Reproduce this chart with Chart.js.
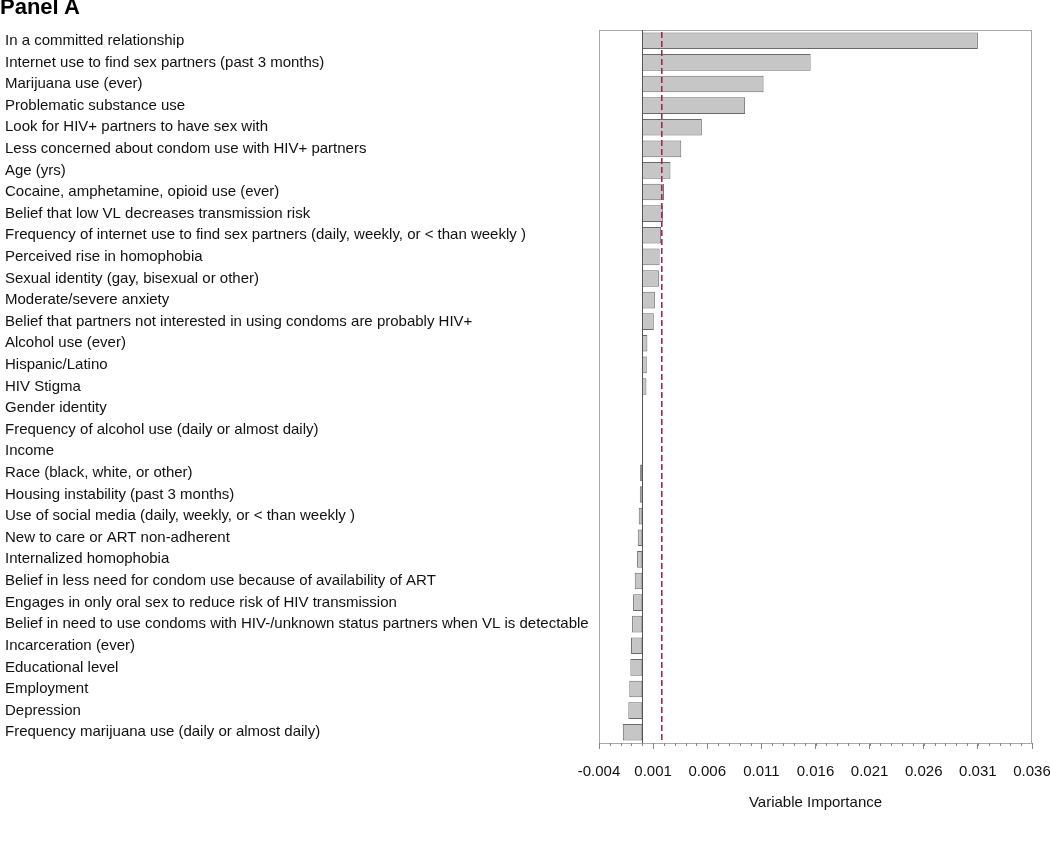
<!DOCTYPE html>
<html>
<head>
<meta charset="utf-8">
<script src="https://cdn.jsdelivr.net/npm/chart.js@4.4.1/dist/chart.umd.min.js"></script>
<style>
   html, body { margin: 0; padding: 0; background: #fff; }
   #wrap { position: relative; width: 1050px; height: 845px; }
   #panel { position: absolute; left: 0; top: -6px; font: bold 22px "Liberation Sans", Arial, sans-serif; color: #000; }
</style>
</head>
<body>
<div id="wrap">
   <div id="panel">Panel A</div>
   <canvas id="chart" width="1050" height="845"></canvas>
</div>
<script>
var variables = [
   "In a committed relationship",
   "Internet use to find sex partners (past 3 months)",
   "Marijuana use (ever)",
   "Problematic substance use",
   "Look for HIV+ partners to have sex with",
   "Less concerned about condom use with HIV+ partners",
   "Age (yrs)",
   "Cocaine, amphetamine, opioid use (ever)",
   "Belief that low VL decreases transmission risk",
   "Frequency of internet use to find sex partners (daily, weekly, or < than weekly )",
   "Perceived rise in homophobia",
   "Sexual identity (gay, bisexual or other)",
   "Moderate/severe anxiety",
   "Belief that partners not interested in using condoms are probably HIV+",
   "Alcohol use (ever)",
   "Hispanic/Latino",
   "HIV Stigma",
   "Gender identity",
   "Frequency of alcohol use (daily or almost daily)",
   "Income",
   "Race (black, white, or other)",
   "Housing instability (past 3 months)",
   "Use of social media (daily, weekly, or < than weekly )",
   "New to care or ART non-adherent",
   "Internalized homophobia",
   "Belief in less need for condom use because of availability of ART",
   "Engages in only oral sex to reduce risk of HIV transmission",
   "Belief in need to use condoms with HIV-/unknown status partners when VL is detectable",
   "Incarceration (ever)",
   "Educational level",
   "Employment",
   "Depression",
   "Frequency marijuana use (daily or almost daily)"
];

var importance = [
   0.0310, 0.01555, 0.0112, 0.0095, 0.0055, 0.0036, 0.0026, 0.0020, 0.0019,
   0.00174, 0.0016, 0.00153, 0.00116, 0.00106, 0.00047, 0.00041, 0.00038,
   0.00002, 0.00001, -0.00001,
   -0.0002, -0.00023, -0.00033, -0.00042, -0.00048, -0.0007, -0.00085,
   -0.00094, -0.00104, -0.0011, -0.0012, -0.00129, -0.0018
];

var xTicks = [-0.004, 0.001, 0.006, 0.011, 0.016, 0.021, 0.026, 0.031, 0.036];
var minorStep = 0.001;
var cutoff = 0.0018;

var fontFamily = '"Liberation Sans", Arial, sans-serif';

// frame, zero line, cutoff line, minor ticks
var decorations = {
   id: 'decorations',
   beforeDatasetsDraw: function(chart) {
      var ctx = chart.ctx, a = chart.chartArea;
      ctx.save();
      ctx.strokeStyle = '#a8a8a8';
      ctx.lineWidth = 1;
      ctx.strokeRect(Math.round(a.left) + 0.5, Math.round(a.top) + 0.5,
                     Math.round(a.right - a.left) - 1, Math.round(a.bottom - a.top));
      ctx.restore();
   },
   afterDatasetsDraw: function(chart) {
      var ctx = chart.ctx, a = chart.chartArea, x = chart.scales.x;
      ctx.save();
      var zx = Math.round(x.getPixelForValue(0)) + 0.5;
      ctx.strokeStyle = '#555';
      ctx.lineWidth = 1;
      ctx.beginPath();
      ctx.moveTo(zx, a.top);
      ctx.lineTo(zx, a.bottom);
      ctx.stroke();

      var cx = x.getPixelForValue(cutoff);
      ctx.strokeStyle = '#9e2a4c';
      ctx.lineWidth = 1.6;
      ctx.setLineDash([6, 3]);
      ctx.beginPath();
      ctx.moveTo(cx, a.top + 2);
      ctx.lineTo(cx, a.bottom);
      ctx.stroke();
      ctx.setLineDash([]);

      ctx.strokeStyle = '#888';
      ctx.lineWidth = 1;
      ctx.beginPath();
      for (var i = 0; i <= Math.round((x.max - x.min) / minorStep); i++) {
         var px = Math.round(x.getPixelForValue(x.min + i * minorStep)) + 0.5;
         ctx.moveTo(px, a.bottom);
         ctx.lineTo(px, a.bottom + 3);
      }
      ctx.stroke();
      ctx.restore();
   }
};

new Chart(document.getElementById('chart'), {
   type: 'bar',
   data: {
      labels: variables,
      datasets: [{
         data: importance,
         backgroundColor: '#c6c6c6',
         borderColor: '#6a6a6a',
         borderWidth: 1,
         borderSkipped: false,
         barPercentage: 0.77,
         categoryPercentage: 1
      }]
   },
   options: {
      indexAxis: 'y',
      responsive: false,
      animation: false,
      layout: { padding: { left: 5, top: 30, right: 0, bottom: 35 } },
      plugins: {
         legend: { display: false },
         tooltip: { enabled: false }
      },
      scales: {
         y: {
            type: 'category',
            offset: true,
            grid: { display: false },
            border: { display: false },
            ticks: {
               crossAlign: 'far',
               padding: 0,
               color: '#111',
               font: { family: fontFamily, size: 15 },
               autoSkip: false
            },
            afterFit: function(scale) { scale.width = 594; }
         },
         x: {
            type: 'linear',
            min: xTicks[0],
            max: xTicks[xTicks.length - 1],
            afterBuildTicks: function(scale) {
               scale.ticks = xTicks.map(function(v) { return { value: v }; });
            },
            afterFit: function(scale) { scale.paddingRight = 18; scale.paddingLeft = 0; },
            grid: {
               drawOnChartArea: false,
               drawTicks: true,
               tickLength: 6,
               tickColor: '#888'
            },
            border: { display: true, color: '#888' },
            ticks: {
               padding: 15.5,
               color: '#111',
               font: { family: fontFamily, size: 15, lineHeight: 1 },
               maxRotation: 0,
               autoSkip: false,
               callback: function(v) { return Number(v).toFixed(3); }
            },
            title: {
               display: true,
               text: 'Variable Importance',
               color: '#111',
               font: { family: fontFamily, size: 15, lineHeight: 1 },
               padding: { top: 0, bottom: 0 }
            }
         }
      }
   },
   plugins: [decorations]
});
</script>
</body>
</html>
